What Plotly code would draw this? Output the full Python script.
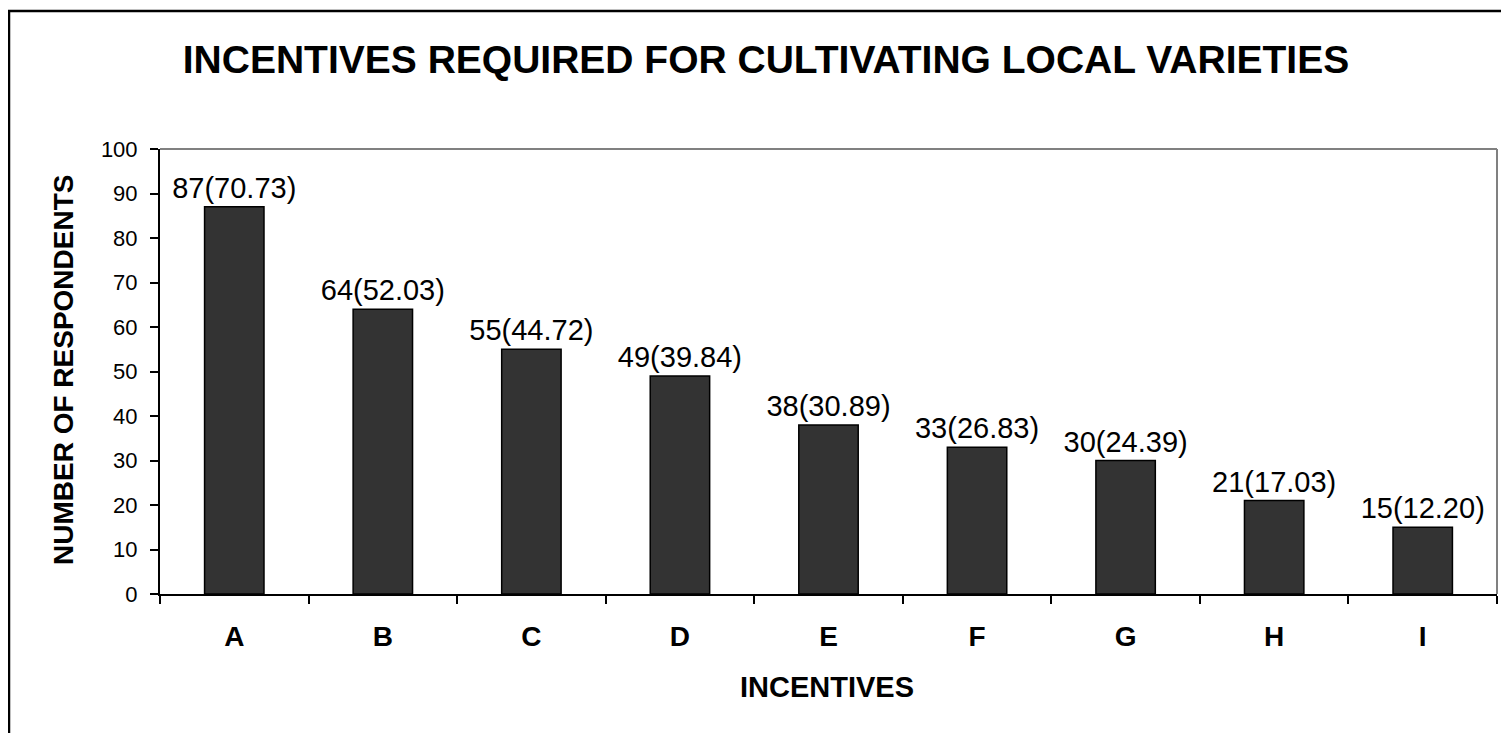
import plotly.graph_objects as go

categories = ["A", "B", "C", "D", "E", "F", "G", "H", "I"]
respondents = [87, 64, 55, 49, 38, 33, 30, 21, 15]
percent = [70.73, 52.03, 44.72, 39.84, 30.89, 26.83, 24.39, 17.03, 12.20]
labels = [f"{n}({p:.2f})" for n, p in zip(respondents, percent)]
y_ticks = list(range(0, 101, 10))

FONT = "Liberation Sans, Arial, sans-serif"

# page has an 8px body margin; figure coordinates = page - 8
L, R, T, B = 152, 20, 141, 147
PW = 1509 - L - R
PH = 733 - T - B

def px(xp):  # page x -> paper x
    return (xp - 8 - L) / PW

def py(yp):  # page y -> paper y
    return (733 - B - (yp - 8)) / PH

fig = go.Figure(go.Bar(
    x=categories, y=respondents, text=labels,
    textposition="outside", cliponaxis=False, constraintext="none",
    textfont=dict(family=FONT, size=29, color="black"),
    marker=dict(color="#333333", line=dict(color="black", width=1.5)),
    width=0.4,
))

fig.update_layout(
    width=1509, height=733,
    margin=dict(l=L, r=R, t=T, b=B),
    paper_bgcolor="white", plot_bgcolor="white",
    showlegend=False,
    title=dict(text="<b>INCENTIVES REQUIRED FOR CULTIVATING LOCAL VARIETIES</b>",
               x=(766 - 8) / 1509, xanchor="center", y=1 - (59 - 8) / 733, yanchor="middle",
               font=dict(family=FONT, size=39, color="black")),
    font=dict(family=FONT, color="black"),
)
fig.update_xaxes(
    type="category", tickson="boundaries", ticks="outside", ticklen=8,
    tickwidth=1.5, tickcolor="black", showline=True, linecolor="black", linewidth=2,
    showgrid=False,
    tickfont=dict(family=FONT, size=28, color="black", weight="bold"),
    ticklabelstandoff=16,
)
fig.update_yaxes(
    range=[0, 100], tickvals=y_ticks, ticks="outside", ticklen=8,
    tickwidth=1.5, tickcolor="black", showline=True, linecolor="black", linewidth=2,
    showgrid=False, zeroline=False,
    tickfont=dict(family=FONT, size=22, color="black"),
    ticklabelstandoff=8,
)
fig.add_annotation(text="<b>NUMBER OF RESPONDENTS</b>", textangle=-90,
                   xref="paper", yref="paper", x=px(63), y=py(370),
                   xanchor="center", yanchor="middle", showarrow=False,
                   font=dict(family=FONT, size=28, color="black"))
fig.add_annotation(text="<b>INCENTIVES</b>",
                   xref="paper", yref="paper", x=px(827), y=py(687),
                   xanchor="center", yanchor="middle", showarrow=False,
                   font=dict(family=FONT, size=29, color="black"))
# gray top/right plot border
fig.add_shape(type="line", xref="paper", yref="paper", x0=0, x1=1, y0=1, y1=1,
              line=dict(color="#808080", width=2))
fig.add_shape(type="line", xref="paper", yref="paper", x0=1, x1=1, y0=0, y1=1,
              line=dict(color="#808080", width=2))
# outer chart border
fig.add_shape(type="rect", xref="paper", yref="paper",
              x0=px(9), x1=1.2, y0=-0.5, y1=py(11),
              line=dict(color="black", width=2.5), layer="above")

fig.write_html("out.html")
